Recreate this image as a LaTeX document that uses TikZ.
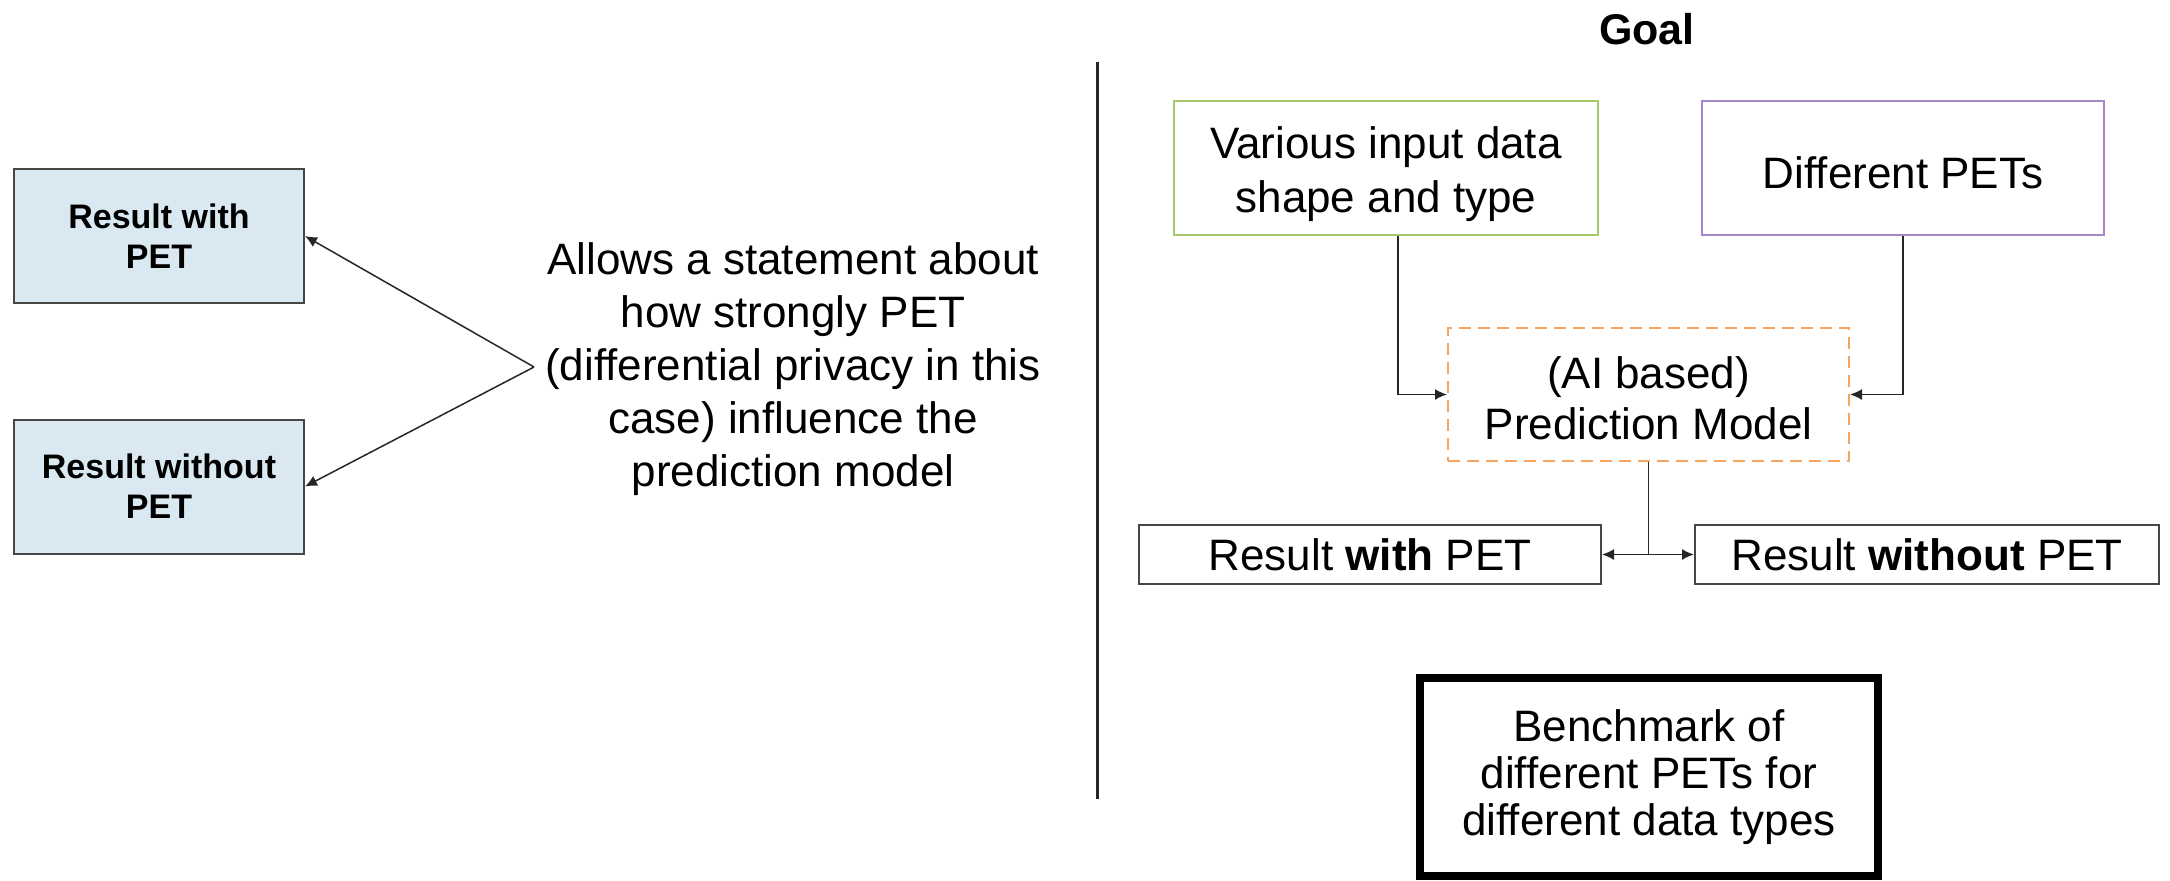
\documentclass[tikz,border=0pt]{standalone}
\usepackage{fontspec}
\setmainfont{Liberation Sans}
\usetikzlibrary{arrows.meta,calc}
\definecolor{boxblue}{RGB}{218,233,241}
\definecolor{boxgray}{RGB}{70,70,70}
\definecolor{pgreen}{RGB}{165,200,105}
\definecolor{ppurple}{RGB}{165,135,200}
\definecolor{porange}{RGB}{245,165,95}
\tikzset{
  arr/.style={draw=black!85, line width=0.75pt, -{Latex[length=6pt,width=5.5pt]}},
  conn/.style={draw=black!85, line width=0.75pt},
  bluebox/.style={draw=boxgray, line width=1pt, fill=boxblue, align=center, inner sep=0pt,
    font=\fontsize{17}{20}\selectfont\bfseries},
  plainbox/.style={line width=1pt, align=center, inner sep=0pt,
    font=\fontsize{22}{27}\selectfont},
  boxtext/.style={align=center, inner sep=0pt, font=\fontsize{22}{27}\selectfont},
  bigtext/.style={align=center, inner sep=0pt, font=\fontsize{22}{26.5}\selectfont}
}
\begin{document}
\begin{tikzpicture}[x=0.5pt,y=-0.5pt]
\useasboundingbox (0,0) rectangle (2170,880);
% left side
\node[bluebox, minimum width=145pt, minimum height=67pt] (b1) at (159,236) {Result with\\PET};
\node[bluebox, minimum width=145pt, minimum height=67pt] (b2) at (159,486.5) {Result without\\PET};
\node[bigtext] (al) at (793,369) {Allows a statement about\\how strongly PET\\(differential privacy in this\\case) influence the\\prediction model};
\coordinate (P) at (534,367);
\draw[arr] (P) -- (b1.east);
\draw[arr] (P) -- (b2.east);
% divider
\coordinate (d1) at (1097,62);
\coordinate (d2) at (1097,799);
\draw[line width=1.5pt, black!85] (d1) -- (d2);
% right side
\node[font=\fontsize{21.5}{26}\selectfont\bfseries, inner sep=0pt] (goal) at (1647,29) {Goal};
\node[plainbox, draw=pgreen, minimum width=212pt, minimum height=67pt] (in) at (1386,168) {};
\node[boxtext] (intext) at ([yshift=-3pt]in.center) {Various input data\\shape and type};
\node[plainbox, draw=ppurple, minimum width=201pt, minimum height=67pt] (pets) at (1903,168) {};
\node[boxtext] (petstext) at ([yshift=-2.5pt]pets.center) {Different PETs};
\node[plainbox, draw=porange, dashed, dash pattern=on 6pt off 3.5pt, minimum width=200.5pt, minimum height=66.5pt] (pm) at (1648.5,394.5) {};
\node[boxtext, font=\fontsize{22}{25.5}\selectfont] (pmtext) at ([yshift=-2pt]pm.center) {(AI based)\\Prediction Model};
\node[plainbox, draw=boxgray, minimum width=231pt, minimum height=29.5pt] (rw) at (1370,554.5) {Result \textbf{with} PET};
\node[plainbox, draw=boxgray, minimum width=232pt, minimum height=29.5pt] (rwo) at (1927,554.5) {Result \textbf{without} PET};
\node[plainbox, draw=black, line width=4pt, font=\fontsize{22}{23.5}\selectfont, minimum width=229pt, minimum height=99pt] (bm) at (1649,777) {Benchmark of\\different PETs for\\different data types};
\draw[arr] ([xshift=6pt]in.south) |- (pm.west);
\draw[arr] (pets.south) |- (pm.east);
\coordinate (j) at (pm.south |- rw.east);
\draw[conn] (pm.south) -- (j);
\draw[arr] (j) -- (rw.east);
\draw[arr] (j) -- (rwo.west);
\end{tikzpicture}
\end{document}
